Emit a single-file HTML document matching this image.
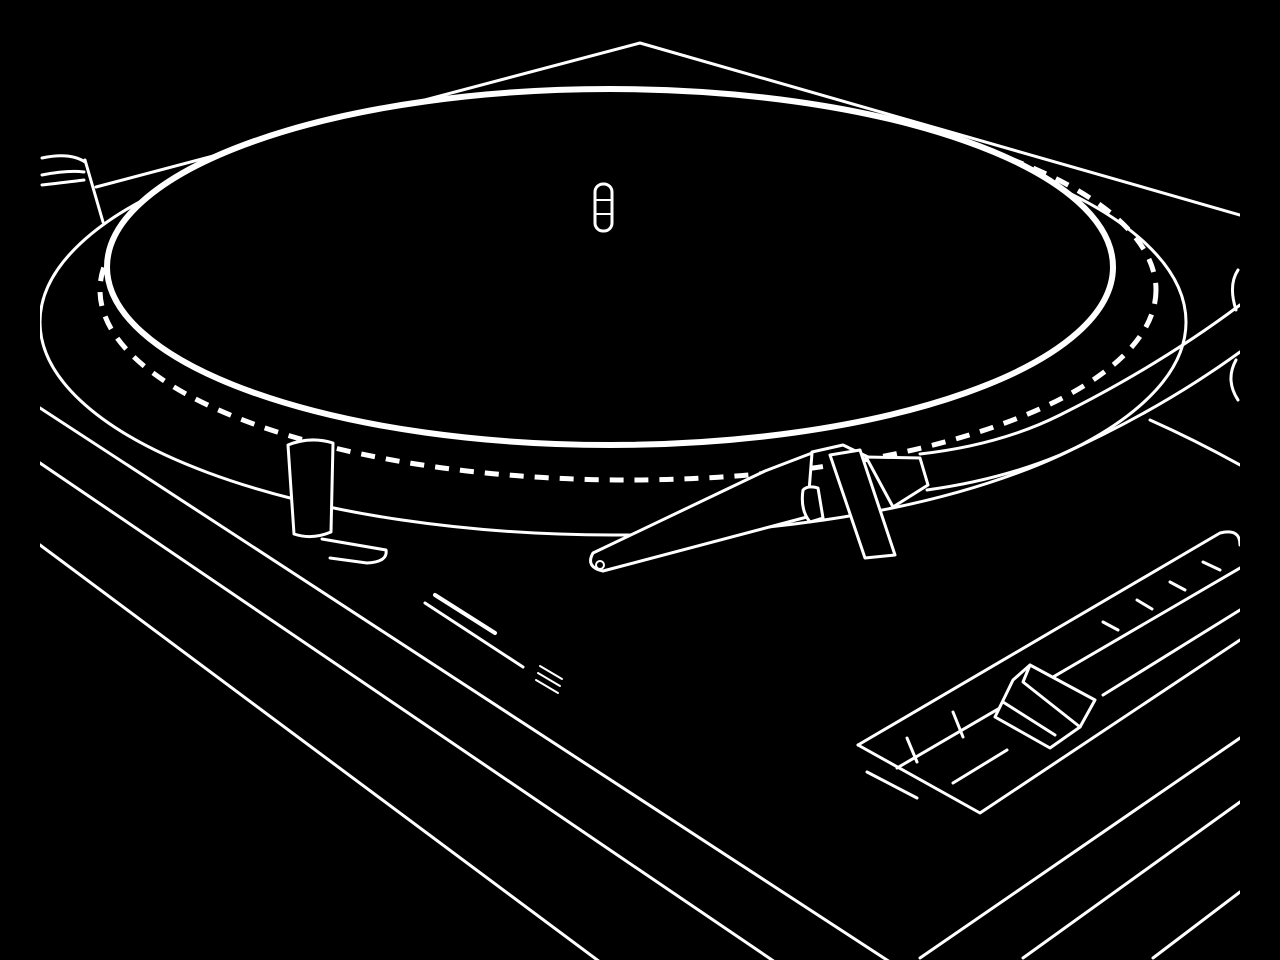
<!DOCTYPE html>
<html><head><meta charset="utf-8"><style>
html,body{margin:0;padding:0;background:#000;width:1280px;height:960px;overflow:hidden}
svg{display:block}
</style></head><body>
<svg width="1280" height="960" viewBox="0 0 1280 960" xmlns="http://www.w3.org/2000/svg">
<defs><clipPath id="c"><rect x="40" y="0" width="1200" height="960"/></clipPath></defs>
<rect width="1280" height="960" fill="#000"/>
<g clip-path="url(#c)" fill="none" stroke="#fff" stroke-linecap="round" stroke-linejoin="round">
<line x1="40" y1="408" x2="890" y2="962" stroke-width="3"/>
<line x1="40" y1="463" x2="775" y2="962" stroke-width="3"/>
<line x1="40" y1="545" x2="600" y2="962" stroke-width="3"/>
<line x1="920" y1="958" x2="1240" y2="738" stroke-width="3"/>
<line x1="1023" y1="958" x2="1240" y2="802" stroke-width="3"/>
<line x1="1153" y1="958" x2="1240" y2="892" stroke-width="3"/>
<polyline points="96,187 640,43 1240,215" stroke-width="3"/>
<path d="M42,158 Q70,152 85,162" stroke-width="3"/>
<path d="M42,175 Q68,170 84,172" stroke-width="3"/>
<path d="M42,185 Q68,182 84,180" stroke-width="3"/>
<line x1="85" y1="160" x2="103" y2="222" stroke-width="3"/>
<ellipse cx="613" cy="322" rx="573" ry="213" stroke-width="3" fill="#000"/>
<ellipse cx="628" cy="290" rx="528" ry="190" stroke-width="5" stroke-dasharray="14 11" stroke-linecap="butt"/>
<ellipse cx="610" cy="267" rx="503" ry="178" stroke-width="6" fill="#000"/>
<rect x="595" y="184" width="17" height="47" rx="8" stroke-width="3"/>
<line x1="597" y1="200" x2="610" y2="200" stroke-width="2"/>
<line x1="597" y1="214" x2="610" y2="214" stroke-width="2"/>
<path d="M322,539 L386,550 Q388,562 367,563 L330,558" stroke-width="3" fill="#000"/>
<path d="M288,445 L294,534 Q312,540 331,532 L333,443 Q310,436 288,445 Z" stroke-width="3" fill="#000"/>
<line x1="435" y1="595" x2="495" y2="633" stroke-width="4"/>
<line x1="425" y1="603" x2="523" y2="667" stroke-width="3"/>
<line x1="540" y1="666" x2="562" y2="679" stroke-width="2"/>
<line x1="538" y1="673" x2="560" y2="686" stroke-width="2"/>
<line x1="536" y1="680" x2="558" y2="693" stroke-width="2"/>
<path d="M1150,420 Q1195,440 1240,465" stroke-width="3"/>
<path d="M1238,270 Q1228,285 1236,310" stroke-width="3"/>
<path d="M1236,360 Q1225,380 1238,400" stroke-width="3"/>
<path d="M920,454 Q1000,445 1060,415 Q1160,365 1240,305" stroke-width="3" fill="none"/>
<path d="M927,490 Q1000,480 1060,455 Q1160,410 1240,352" stroke-width="3"/>
<path d="M603,571 L807,517 L812,453 L765,471 L593,553 Q585,567 603,571 Z" stroke-width="3" fill="#000"/>
<circle cx="600" cy="565" r="4" stroke-width="2"/>
<path d="M803,490 Q808,485 818,488 L823,518 L810,522 Q800,510 803,490 Z" stroke-width="3" fill="#000"/>
<path d="M866,457 L920,458 L928,485 L893,507 Z" stroke-width="3" fill="#000"/>
<path d="M812,452 L843,445 L868,457" stroke-width="3"/>
<path d="M830,455 L860,450 L895,555 L865,558 Z" stroke-width="3" fill="#000"/>
<path d="M858,745 L1220,533 Q1240,528 1240,545" stroke-width="3"/>
<path d="M858,745 L980,813 L1240,640" stroke-width="3"/>
<line x1="897" y1="768" x2="1240" y2="568" stroke-width="3"/>
<line x1="953" y1="783" x2="1007" y2="750" stroke-width="3"/>
<line x1="1103" y1="695" x2="1240" y2="610" stroke-width="3"/>
<line x1="867" y1="772" x2="917" y2="798" stroke-width="3"/>
<line x1="907" y1="738" x2="917" y2="762" stroke-width="3"/>
<line x1="953" y1="712" x2="963" y2="737" stroke-width="3"/>
<line x1="1103" y1="622" x2="1118" y2="630" stroke-width="3"/>
<line x1="1137" y1="600" x2="1152" y2="609" stroke-width="3"/>
<line x1="1170" y1="582" x2="1185" y2="590" stroke-width="3"/>
<line x1="1203" y1="562" x2="1220" y2="570" stroke-width="3"/>
<path d="M1013,680 L1030,665 L1095,700 L1080,727 L1050,748 L995,717 Z" stroke-width="3" fill="#000"/>
<path d="M1030,665 L1023,682 L1080,727" stroke-width="3"/>
<line x1="1003" y1="702" x2="1055" y2="735" stroke-width="3"/>
</g>
</svg>
</body></html>
